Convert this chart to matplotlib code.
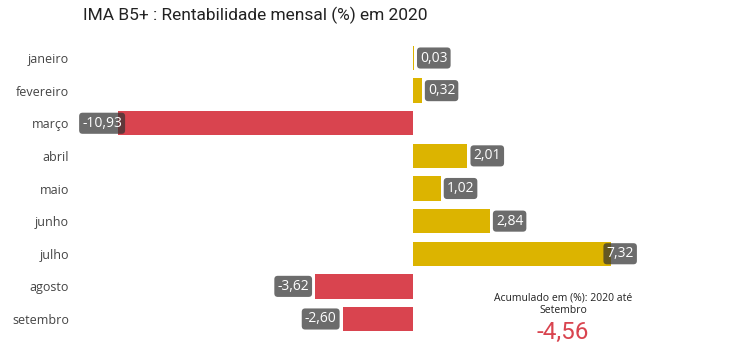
import matplotlib
matplotlib.use('Agg')
import matplotlib.pyplot as plt

months = ['janeiro', 'fevereiro', 'março', 'abril', 'maio', 'junho', 'julho', 'agosto', 'setembro']
values = [0.03, 0.32, -10.93, 2.01, 1.02, 2.84, 7.32, -3.62, -2.60]
title = 'IMA B5+ : Rentabilidade mensal (%) em 2020'
acum_label = 'Acumulado em (%): 2020 até\nSetembro'
acum_value = -4.56

pos_color = '#DCB400'
neg_color = '#D9444F'

plt.rcParams['font.family'] = ['Open Sans', 'DejaVu Sans']

fig = plt.figure(figsize=(7.5, 3.55), dpi=100)
W, H = 750, 355
# axes in pixel coords: left 80, right 720, top 41.7, bottom 335.3
ax = fig.add_axes([80 / W, 1 - 335.3 / H, 640 / W, (335.3 - 41.7) / H])

colors = [pos_color if v >= 0 else neg_color for v in values]
ypos = list(range(len(months)))
ax.barh(ypos, values, height=0.75, color=colors, zorder=2)

ax.set_xlim((80 - 413) / 27.0, (720 - 413) / 27.0)
ax.set_ylim(len(months) - 0.5, -0.5)
ax.set_yticks(ypos)
ax.set_yticklabels(months, fontsize=9, color='#444444')
ax.tick_params(axis='y', length=0, pad=8)
ax.set_xticks([])
for s in ax.spines.values():
    s.set_visible(False)

# value labels (gray boxes)
for i, v in enumerate(values):
    txt = ('%.2f' % v).replace('.', ',')
    big = abs(v) > 7
    off = -3 if big else 4.5
    if v >= 0:
        dx, ha = off, 'left'
    else:
        dx, ha = -off, 'right'
    ax.annotate(txt, xy=(v, i), xytext=(dx, 0), textcoords='offset points',
                ha=ha, va='center', fontsize=10, color='white', zorder=4,
                bbox=dict(boxstyle='round,pad=0.22,rounding_size=0.25',
                          fc='#333333', ec='none', alpha=0.72))

fig.text(83 / W, 1 - 15 / H, title, fontsize=12.5, color='#222222',
         ha='left', va='center', family=['Roboto', 'DejaVu Sans'])

fig.text(563 / W, 1 - 304 / H, acum_label, fontsize=7.5, color='#222222',
         ha='center', va='center', linespacing=1.15)
fig.text(563 / W, 1 - 332 / H, ('%.2f' % acum_value).replace('.', ','),
         fontsize=17.5, color=neg_color, ha='center', va='center',
         family=['Roboto', 'DejaVu Sans'])

fig.savefig('out.png', dpi=100)
